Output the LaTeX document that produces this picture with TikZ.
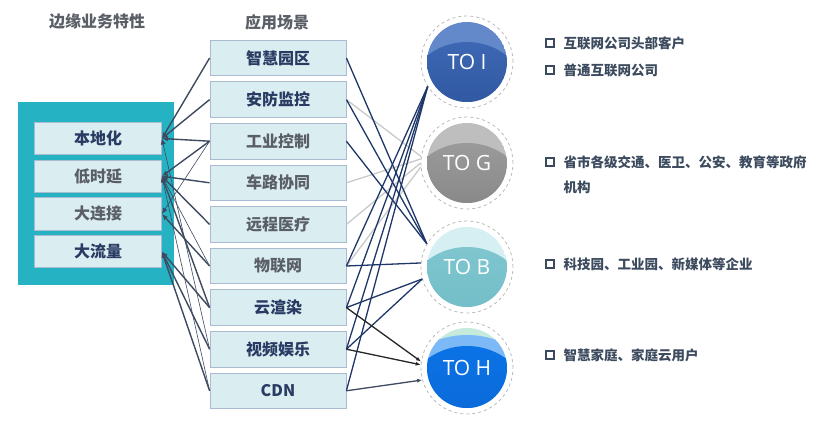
\documentclass[tikz,border=0pt]{standalone}
\usepackage{fontspec}
\setmainfont{Noto Sans CJK SC}
\newfontfamily\latinfont{Open Sans}
\usetikzlibrary{arrows.meta, positioning}
\definecolor{panelteal}{HTML}{25B3C4}
\definecolor{boxfill}{HTML}{DAEEF2}
\definecolor{boxedge}{HTML}{AABAD0}
\definecolor{navytext}{HTML}{2A3B63}
\definecolor{graytext}{HTML}{5A5E66}
\definecolor{linkdark}{HTML}{3D4A60}
\definecolor{linknavy}{HTML}{1E3768}
\definecolor{linkgray}{HTML}{C9C9C9}
\definecolor{listtext}{HTML}{3C4A5E}
\definecolor{ballItop}{HTML}{6489CB}
\definecolor{ballIa}{HTML}{3D67B3}
\definecolor{ballIb}{HTML}{24498F}
\definecolor{ballGtop}{HTML}{BEBEBE}
\definecolor{ballGa}{HTML}{9A9A9A}
\definecolor{ballGb}{HTML}{767676}
\definecolor{ballBtop}{HTML}{D6EFF3}
\definecolor{ballBa}{HTML}{7FC6CF}
\definecolor{ballBb}{HTML}{64B4C0}
\definecolor{ballHtop}{HTML}{C6EBDD}
\definecolor{ballHmid}{HTML}{7DB9F7}
\definecolor{ballHa}{HTML}{0B73E6}
\definecolor{ballHb}{HTML}{0A60CC}
\tikzset{feat/.style={rectangle,draw=boxedge,fill=boxfill,line width=0.8pt,minimum width=127pt,minimum height=32pt,font=\fontsize{16}{16}\selectfont\bfseries},scene/.style={feat,minimum width=136pt,minimum height=35.5pt},title/.style={font=\fontsize{16}{16}\selectfont\bfseries,text=graytext},ring/.style={circle,draw=gray!55,dashed,line width=0.8pt,minimum size=92pt,inner sep=0pt,text=white,font=\latinfont\fontsize{21}{21}\selectfont},bullet/.style={rectangle,draw=listtext,line width=1.6pt,minimum size=8pt,inner sep=0pt},item/.style={anchor=west,align=left,text=listtext,font=\fontsize{13.5}{25}\selectfont\bfseries},line/.style={-{Latex[length=6pt,width=5pt]},draw=linkdark,line width=1.4pt},thin/.style={line,line width=0.6pt},navy/.style={draw=linknavy,line width=1.3pt},pale/.style={draw=linkgray,line width=1.3pt},dark/.style={-{Latex[length=5pt,width=4pt]},draw=black!85,line width=1.3pt}}

\begin{document}
\begin{tikzpicture}[x=1pt,y=-1pt,node distance=5.3pt]
\useasboundingbox (0,0) rectangle (832,422);
% left panel
\fill[panelteal] (18,102) rectangle (174,285);
\node[title] (t1) at (97,22) {边缘业务特性};
\node[title] (t2) at (277,22) {应用场景};
\node[feat,text=navytext] (f1) at (98,138.5) {本地化};
\node[feat,text=graytext,below=4.9pt of f1] (f2) {低时延};
\node[feat,text=graytext,below=4.9pt of f2] (f3) {大连接};
\node[feat,text=navytext,below=4.9pt of f3] (f4) {大流量};
% scenes
\node[scene,text=navytext] (s1) at (278,58) {智慧园区};
\node[scene,text=navytext,below=of s1] (s2) {安防监控};
\node[scene,text=graytext,below=of s2] (s3) {工业控制};
\node[scene,text=graytext,below=of s3] (s4) {车路协同};
\node[scene,text=graytext,below=of s4] (s5) {远程医疗};
\node[scene,text=graytext,below=of s5] (s6) {物联网};
\node[scene,text=navytext,below=of s6] (s7) {云渲染};
\node[scene,text=navytext,below=of s7] (s8) {视频娱乐};
\node[scene,text=navytext,below=of s8] (s9) {CDN};
% balls
\begin{scope}
\clip (467,62) circle (40);
\fill[ballItop] (467,62) circle (40);
\shade[top color=ballIa,bottom color=ballIb] (467,107) circle (65);
\end{scope}
\begin{scope}
\clip (467,163) circle (40);
\fill[ballGtop] (467,163) circle (40);
\shade[top color=ballGa,bottom color=ballGb] (467,208) circle (65);
\end{scope}
\begin{scope}
\clip (467,267) circle (40);
\fill[ballBtop] (467,267) circle (40);
\shade[top color=ballBa,bottom color=ballBb] (467,312) circle (65);
\end{scope}
\begin{scope}
\clip (467,368) circle (40);
\fill[ballHtop] (467,368) circle (40);
\fill[ballHmid] (467,423) circle (88);
\shade[top color=ballHa,bottom color=ballHb] (467,413) circle (67);
\end{scope}
\node[ring] (toI) at (467,62) {TO I};
\node[ring] (toG) at (467,163) {TO G};
\node[ring] (toB) at (467,267) {TO B};
\node[ring] (toH) at (467,368) {TO H};
% left links
\draw[line] (s1.west) -- (f1.east);
\draw[line] (s2.west) -- (f1.east);
\draw[line] (s3.west) -- (f1.east);
\draw[line] (s3.west) -- (f2.east);
\draw[thin] (s3.west) -- (f3.east);
\draw[line] (s4.west) -- (f2.east);
\draw[line] (s5.west) -- (f2.east);
\draw[line] (s6.west) -- (f3.east);
\draw[thin] (s6.west) -- (f2.east);
\draw[line] (s7.west) -- (f2.east);
\draw[line] (s7.west) -- (f4.east);
\draw[line] (s8.west) -- (f4.east);
\draw[thin] (s8.west) -- (f1.east);
\draw[line] (s9.west) -- (f4.east);
\draw[thin] (s9.west) -- (f2.east);
% right links
\draw[pale] (s2.east) -- (toG.172);
\draw[pale] (s4.east) -- (toG.175);
\draw[pale] (s5.east) -- (toG.180);
\draw[pale] (s6.east) -- (toG.185);
\draw[navy] (s1.east) -- (toB.150);
\draw[navy] (s2.east) -- (toB.150);
\draw[navy] (s3.east) -- (toB.150);
\draw[navy] (s6.east) -- (toB.175);
\draw[navy] (s7.east) -- (toB.195);
\draw[navy] (s8.east) -- (toB.195);
\draw[navy] (s6.east) -- (toI.212);
\draw[navy] (s7.east) -- (toI.212);
\draw[navy] (s8.east) -- (toI.212);
\draw[navy] (s9.east) -- (toI.212);
\draw[dark] (s7.east) -- (toH.172);
\draw[dark] (s8.east) -- (toH.176);
\draw[dark,draw=linkdark] (s9.east) -- (toH.195);
% customer lists
\node[bullet] (b1) at (550,43) {};
\node[item] (i1) at (560,43) {互联网公司头部客户};
\node[bullet] (b2) at (550,70) {};
\node[item] (i2) at (560,70) {普通互联网公司};
\node[bullet] (b3) at (550,162) {};
\node[item] (i3) at (560,174.5) {省市各级交通、医卫、公安、教育等政府\\机构};
\node[bullet] (b4) at (550,264) {};
\node[item] (i4) at (560,264) {科技园、工业园、新媒体等企业};
\node[bullet] (b5) at (550,355) {};
\node[item] (i5) at (560,355) {智慧家庭、家庭云用户};
\end{tikzpicture}
\end{document}
